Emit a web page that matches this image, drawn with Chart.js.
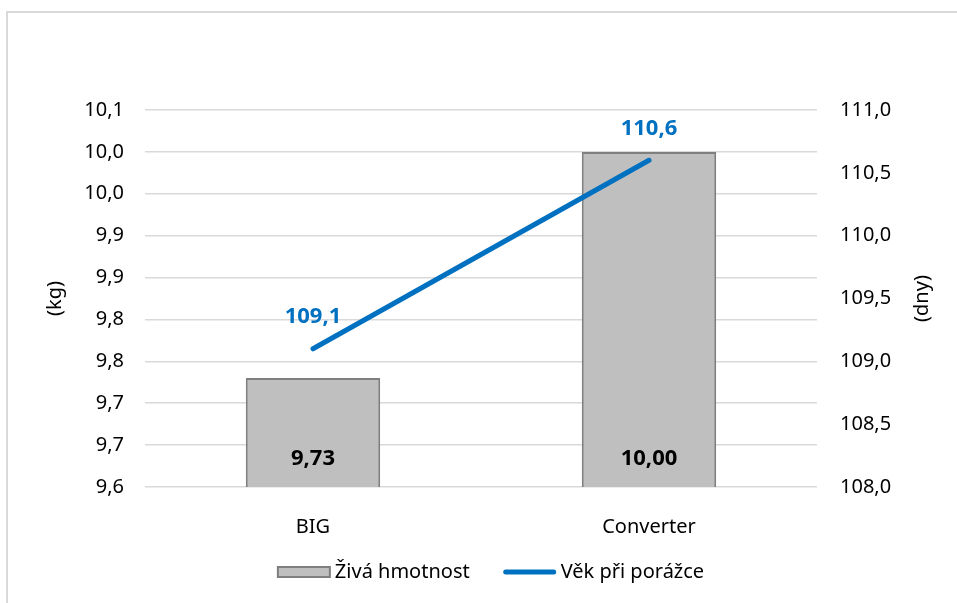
<!DOCTYPE html>
<html>
<head>
<meta charset="utf-8">
<script src="https://cdn.jsdelivr.net/npm/chart.js@4.4.0/dist/chart.umd.min.js"></script>
<style>
  html, body { margin: 0; padding: 0; background: #fff; }
  #wrap { position: relative; width: 957px; height: 603px; overflow: hidden; }
  #frame { position: absolute; left: 6px; top: 11px; width: 1000px; height: 700px;
           border-left: 2px solid #d9d9d9; border-top: 2px solid #d9d9d9; }
  canvas { position: absolute; left: 0; top: 0; }
</style>
</head>
<body>
<div id="wrap">
  <div id="frame"></div>
  <canvas id="chart" width="957" height="603"></canvas>
</div>
<script>
// data
const categories = ["BIG", "Converter"];
const hmotnost = [9.73, 10.00];      // kg
const vek = [109.1, 110.6];          // dny
const hmotnostLabels = ["9,73", "10,00"];
const vekLabels = ["109,1", "110,6"];

// osy
const kgTicks = [9.6, 9.65, 9.7, 9.75, 9.8, 9.85, 9.9, 9.95, 10.0, 10.05];
const kgTickLabels = ["9,6", "9,7", "9,7", "9,8", "9,8", "9,9", "9,9", "10,0", "10,0", "10,1"];
const dnyTicks = [108.0, 108.5, 109.0, 109.5, 110.0, 110.5, 111.0];
const dnyTickLabels = ["108,0", "108,5", "109,0", "109,5", "110,0", "110,5", "111,0"];

const FONT = "'Noto Sans', 'Open Sans', sans-serif";
const BLUE = "#0070c0";

// popisky hodnot + nazvy os + legenda
const extras = {
  id: "extras",
  afterDatasetsDraw(chart) {
    const ctx = chart.ctx;
    const area = chart.chartArea;
    ctx.save();
    ctx.textAlign = "center";
    ctx.textBaseline = "middle";
    ctx.font = "bold 22px " + FONT;

    // bar labels
    ctx.fillStyle = "#000";
    chart.getDatasetMeta(0).data.forEach((bar, i) => {
      ctx.fillText(hmotnostLabels[i], bar.x, area.bottom - 28);
    });
    // line labels
    ctx.fillStyle = BLUE;
    chart.getDatasetMeta(1).data.forEach((pt, i) => {
      ctx.fillText(vekLabels[i], pt.x, pt.y - 32);
    });

    // axis titles (both read bottom to top)
    ctx.font = "20px " + FONT;
    ctx.fillStyle = "#000";
    const midY = (area.top + area.bottom) / 2;
    ctx.save();
    ctx.translate(chart.scales.y.left + 55, midY);
    ctx.rotate(-Math.PI / 2);
    ctx.fillText("(kg)", 0, 0);
    ctx.restore();
    ctx.save();
    ctx.translate(chart.scales.y1.right - 35, midY);
    ctx.rotate(-Math.PI / 2);
    ctx.fillText("(dny)", 0, 0);
    ctx.restore();

    // legend
    const ds = chart.data.datasets;
    const boxW = 52, gap = 5, itemGap = 34;
    const w0 = ctx.measureText(ds[0].label).width;
    const w1 = ctx.measureText(ds[1].label).width;
    const total = boxW + gap + w0 + itemGap + boxW + gap + w1;
    let x = (area.left + area.right) / 2 + 10 - total / 2;
    const ly = 572;
    ctx.textAlign = "left";
    ctx.fillStyle = ds[0].backgroundColor;
    ctx.fillRect(x, ly - 5, boxW, 10);
    ctx.strokeStyle = ds[0].borderColor;
    ctx.lineWidth = 2;
    ctx.strokeRect(x, ly - 5, boxW, 10);
    x += boxW + gap;
    ctx.fillStyle = "#000";
    ctx.fillText(ds[0].label, x, ly);
    x += w0 + itemGap;
    ctx.strokeStyle = ds[1].borderColor;
    ctx.lineWidth = 5;
    ctx.lineCap = "round";
    ctx.beginPath();
    ctx.moveTo(x + 2, ly);
    ctx.lineTo(x + boxW - 2, ly);
    ctx.stroke();
    x += boxW + gap;
    ctx.fillText(ds[1].label, x, ly);
    ctx.restore();
  }
};

new Chart(document.getElementById("chart"), {
  data: {
    labels: categories,
    datasets: [
      {
        type: "bar",
        label: "Živá hmotnost",
        data: hmotnost,
        yAxisID: "y",
        backgroundColor: "#bfbfbf",
        borderColor: "#7f7f7f",
        borderWidth: 2,
        barPercentage: 0.4,
        categoryPercentage: 1,
        order: 1
      },
      {
        type: "line",
        label: "Věk při porážce",
        data: vek,
        yAxisID: "y1",
        borderColor: BLUE,
        backgroundColor: BLUE,
        borderWidth: 5,
        borderCapStyle: "round",
        pointRadius: 0,
        order: 0
      }
    ]
  },
  options: {
    responsive: false,
    animation: false,
    layout: { padding: { top: 110, bottom: 56, left: 0, right: 0 } },
    plugins: { legend: { display: false }, tooltip: { enabled: false } },
    scales: {
      x: {
        grid: { display: false },
        border: { display: false },
        ticks: { font: { family: FONT, size: 20 }, color: "#000", padding: 20 },
        afterFit(s) { s.height = 60; }
      },
      y: {
        position: "left",
        min: 9.6,
        max: 10.05,
        afterBuildTicks(s) { s.ticks = kgTicks.map(v => ({ value: v })); },
        ticks: {
          font: { family: FONT, size: 20 }, color: "#000", padding: 21,
          callback: (v, i) => kgTickLabels[i]
        },
        grid: { color: "#d9d9d9", lineWidth: 1.5, drawTicks: false },
        border: { display: false },
        afterFit(s) { s.width = 145; }
      },
      y1: {
        position: "right",
        min: 108,
        max: 111,
        afterBuildTicks(s) { s.ticks = dnyTicks.map(v => ({ value: v })); },
        ticks: {
          font: { family: FONT, size: 20 }, color: "#000", padding: 23,
          callback: (v, i) => dnyTickLabels[i]
        },
        grid: { display: false, drawTicks: false },
        border: { display: false },
        afterFit(s) { s.width = 140; }
      }
    }
  },
  plugins: [extras]
});
</script>
</body>
</html>
